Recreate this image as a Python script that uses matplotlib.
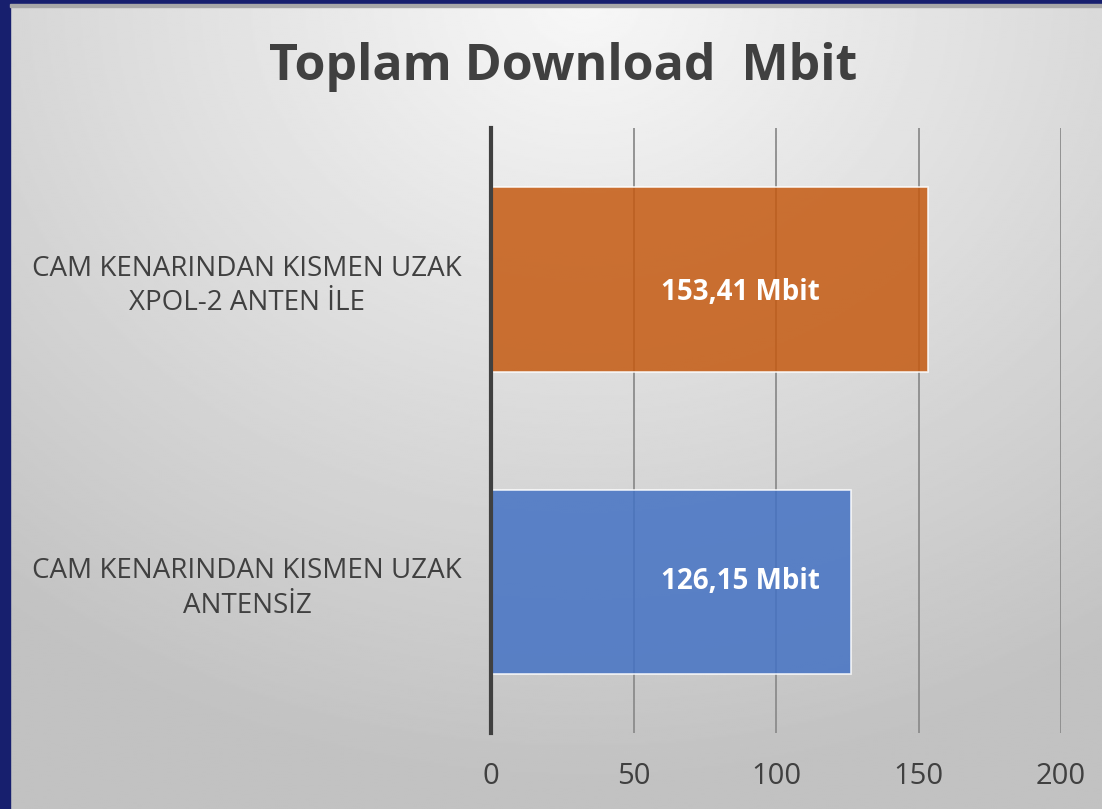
import numpy as np
import matplotlib
matplotlib.use('Agg')
import matplotlib.pyplot as plt
from matplotlib.patches import Rectangle

plt.rcParams['font.family'] = ['Open Sans', 'DejaVu Sans']

# data
categories = ['CAM KENARINDAN KISMEN UZAK\nANTENSİZ',
              'CAM KENARINDAN KISMEN UZAK\nXPOL-2 ANTEN İLE']
values = [126.15, 153.41]
value_labels = ['126,15 Mbit', '153,41 Mbit']
bar_colors = ['#4472C4', '#C55A11']
x_ticks = [0, 50, 100, 150, 200]

fig = plt.figure(figsize=(11.02, 8.09), dpi=100)

# gradient background
bg = fig.add_axes([0, 0, 1, 1], zorder=-10)
yy, xx = np.mgrid[0:1:400j, 0:1:550j]
d = np.sqrt(((xx - 0.53) / 1.0) ** 2 + ((yy - 0.0) / 1.15) ** 2)
shade = np.clip(0.97 - 0.25 * d, 0.76, 0.97)
bg.imshow(shade, cmap='gray', vmin=0, vmax=1, aspect='auto',
          extent=[0, 1, 1, 0], interpolation='bilinear')
bg.set_xlim(0, 1)
bg.set_ylim(1, 0)
bg.axis('off')

# frame strips
fig.patches.append(Rectangle((0, 0), 0.0095, 1, transform=fig.transFigure,
                             color='#171F6E', zorder=5))
fig.patches.append(Rectangle((0, 0.9945), 1, 0.0055, transform=fig.transFigure,
                             color='#171F6E', zorder=5))
fig.patches.append(Rectangle((0.0095, 0.991), 1, 0.0035, transform=fig.transFigure,
                             color='#A8A8A8', zorder=5))

ax = fig.add_axes([0.4456, 0.0939, 0.5172, 0.7479])
ax.set_facecolor('none')
pos = np.arange(len(categories))
bars = ax.barh(pos, values, height=0.61, color=bar_colors, alpha=0.85,
               edgecolor='white', linewidth=1.2, zorder=3)

for p, lab in zip(pos, value_labels):
    ax.text(87.5, p - (0.045 if p == 1 else 0), lab, ha='center', va='center',
            color='white', fontsize=20, fontweight='bold', zorder=5)

ax.set_xlim(0, 200)
ax.set_ylim(-0.5, 1.5)
ax.set_xticks(x_ticks)
ax.xaxis.grid(True, color='#8C8C8C', linewidth=1.3, zorder=1)
ax.set_axisbelow(True)
for s in ['top', 'right', 'bottom']:
    ax.spines[s].set_visible(False)
ax.spines['left'].set_color('#404040')
ax.spines['left'].set_linewidth(3)
ax.spines['left'].set_zorder(4)

ax.set_yticks(pos)
ax.set_yticklabels(categories, multialignment='center', linespacing=1.3)
ax.tick_params(axis='y', length=0, pad=21, labelsize=20, labelcolor='#404040')
ax.tick_params(axis='x', length=0, pad=21, labelsize=21, labelcolor='#404040')

fig.text(0.511, 0.917, 'Toplam Download  Mbit', ha='center', va='center',
         fontsize=36, fontweight='bold', color='#404040')

fig.savefig('out.png', dpi=100)
